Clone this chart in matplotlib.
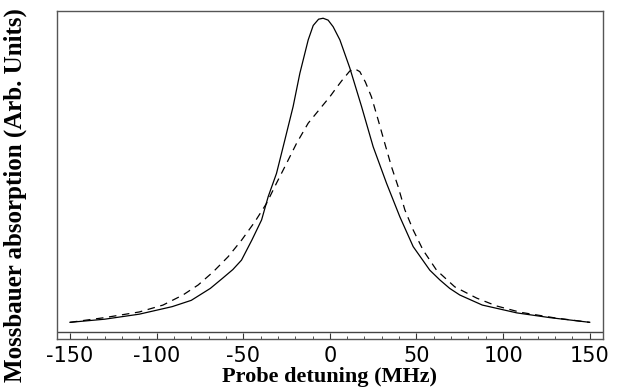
import matplotlib
matplotlib.use("Agg")
import matplotlib.pyplot as plt
from matplotlib.ticker import MultipleLocator

# Solid curve (detuning MHz, absorption arb. units)
solid_x = [-150, -130, -110, -91, -80, -69, -62, -56, -51, -45, -39.4, -35.6, -30.8, -26, -21.2,
           -17.3, -12.5, -9.6, -6.5, -3.9, -1, 1.9, 5.8, 11.5, 18.3, 25, 32.7, 40.4, 48.1,
           57.7, 63.5, 69.2, 75, 88, 108, 127, 150]
solid_y = [0.030, 0.040, 0.056, 0.080, 0.100, 0.138, 0.170, 0.198, 0.228, 0.292, 0.356, 0.430, 0.504, 0.610, 0.717,
           0.823, 0.929, 0.975, 0.995, 0.998, 0.992, 0.971, 0.929, 0.840, 0.717, 0.589, 0.473, 0.366, 0.271,
           0.196, 0.165, 0.138, 0.117, 0.085, 0.060, 0.045, 0.030]

# Dashed curve
dash_x = [-150, -130, -110, -96.3, -84.8, -76, -67.3, -58.7, -50.9, -43.3, -36.5, -30.8, -25, -19.2,
          -12.5, -3.9, 0, 2.9, 7, 11.5, 14.4, 17.3, 20.5, 24, 27.9, 31.7, 35.6, 39.4, 43.3, 48.1,
          53.8, 61.6, 72.1, 84.8, 96.3, 110, 130, 150]
dash_y = [0.030, 0.045, 0.063, 0.085, 0.117, 0.149, 0.191, 0.239, 0.292, 0.350, 0.409, 0.473, 0.536, 0.600,
          0.664, 0.722, 0.748, 0.770, 0.800, 0.830, 0.837, 0.828, 0.795, 0.748, 0.674, 0.600, 0.525, 0.462, 0.388, 0.324,
          0.260, 0.196, 0.143, 0.107, 0.082, 0.062, 0.044, 0.030]

xticks = [-150, -100, -50, 0, 50, 100, 150]

W, H = 618, 392
fig = plt.figure(figsize=(W / 100, H / 100), dpi=100)
ax = fig.add_axes([57 / W, 1 - 339.3 / H, (602.7 - 57) / W, (339.3 - 10.7) / H])

ax.plot(solid_x, solid_y, color='black', lw=0.9)
ax.plot(dash_x, dash_y, color='black', lw=0.9, dashes=(6, 4.5))
ax.axhline(0, color='#444444', lw=1.0)

ax.set_xlim(-157.5, 157.5)
ax.set_ylim(-0.024, 1.022)
ax.set_xticks(xticks)
ax.set_xticklabels([str(t) for t in xticks])
ax.xaxis.set_minor_locator(MultipleLocator(10))
ax.tick_params(axis='x', which='major', direction='in', length=4, width=0.8,
               colors='#333333', labelcolor='black', labelsize=15, pad=5)
ax.tick_params(axis='x', which='minor', direction='in', length=2.5, width=0.6, colors='#333333')
ax.set_yticks([])
for s in ax.spines.values():
    s.set_color('#555555')
    s.set_linewidth(1.0)
for lab in ax.get_xticklabels():
    lab.set_family('DejaVu Sans')

ax.set_xlabel('Probe detuning (MHz)', family='Liberation Serif', fontweight='bold', fontsize=16,
              va='center')
ax.xaxis.set_label_coords(0.5, (339.3 - 377) / (339.3 - 10.7))
ax.set_ylabel('Mossbauer absorption (Arb. Units)', family='Liberation Serif', fontweight='bold',
              fontsize=18, va='center')
ax.yaxis.set_label_coords((15 - 57) / (602.7 - 57), (339.3 - 195) / (339.3 - 10.7))

fig.savefig('out.png', dpi=100)
